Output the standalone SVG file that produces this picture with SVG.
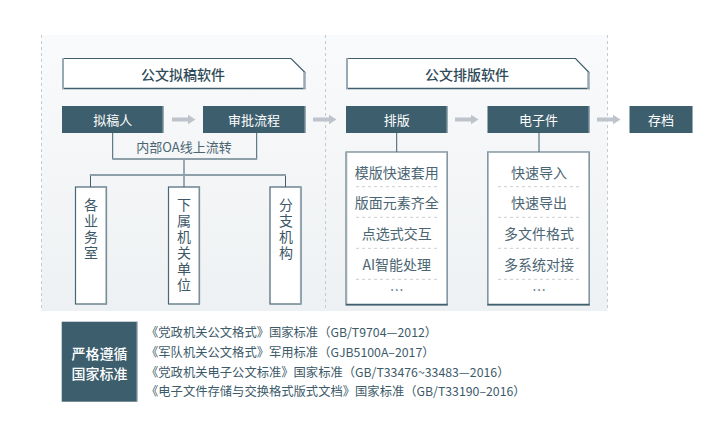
<svg xmlns="http://www.w3.org/2000/svg" width="727" height="431" viewBox="0 0 727 431">
<defs>
<linearGradient id="bg" x1="0" y1="0" x2="0" y2="1">
<stop offset="0" stop-color="#f9fafb"/>
<stop offset="1" stop-color="#eef1f3"/>
</linearGradient>
<path id="arr" d="M0,-2 H16 V-4.7 L23.5,0 L16,4.7 V2 H0 Z" fill="#bec4cb"/>
<style>
text{font-family:"Noto Sans CJK SC","Noto Sans",sans-serif;}
.dk{fill:#3d5e6d;}
.lt{stroke:#98a9b3;fill:none;}
.dl{stroke:#3f5f6e;fill:none;}
.wt{fill:#ffffff;font-size:13px;text-anchor:middle;dominant-baseline:central;}
.tt{fill:#2f4b59;font-size:14px;font-weight:500;text-anchor:middle;dominant-baseline:central;}
.li{fill:#4b6572;font-size:14px;text-anchor:middle;dominant-baseline:central;}
.vt{fill:#3e5868;font-size:14px;writing-mode:vertical-rl;letter-spacing:2px;}
.sep{stroke:#c9cfd4;stroke-dasharray:3 3;stroke-width:1;}
.vd{stroke:#c4cad0;stroke-dasharray:3 3;stroke-width:1;}
.st{fill:#3d5a69;font-size:12.3px;}
</style>
</defs>
<rect x="41.5" y="35" width="566" height="276" fill="url(#bg)"/>
<line class="vd" x1="41.5" y1="35" x2="41.5" y2="311"/>
<line class="vd" x1="325.5" y1="35" x2="325.5" y2="311"/>
<line class="vd" x1="607.5" y1="35" x2="607.5" y2="311"/>

<g id="title1">
<path d="M62,58 H291 L305.5,72.5 V89 H62 Z" fill="#fff"/>
<path class="dl" d="M62,58.5 H291 L305.5,73" stroke-width="1.2"/>
<line class="dl" x1="62" y1="88.5" x2="305.5" y2="88.5" stroke-width="1.5"/>
<line class="lt" x1="63" y1="58" x2="63" y2="89" stroke-width="2"/>
<line class="lt" x1="304.5" y1="72" x2="304.5" y2="89" stroke-width="2.5"/>
<text class="tt" x="183" y="74">公文拟稿软件</text>
</g>
<g id="title2">
<path d="M346,58 H575.5 L589.5,72.5 V89 H346 Z" fill="#fff"/>
<path class="dl" d="M346,58.5 H575.5 L589.5,73" stroke-width="1.2"/>
<line class="dl" x1="346" y1="88.5" x2="589.5" y2="88.5" stroke-width="1.5"/>
<line class="lt" x1="347" y1="58" x2="347" y2="89" stroke-width="2"/>
<line class="lt" x1="588.5" y1="72" x2="588.5" y2="89" stroke-width="2.5"/>
<text class="tt" x="467" y="74">公文排版软件</text>
</g>

<g id="nigaoren">
<rect class="dk" x="62" y="106" width="101.5" height="27"/>
<line class="lt" x1="163" y1="106" x2="163" y2="133" stroke-width="1"/>
<text class="wt" x="112.7" y="119.5">拟稿人</text>
</g>
<g id="shenpi">
<rect class="dk" x="203" y="106" width="102.5" height="27"/>
<line class="lt" x1="305" y1="106" x2="305" y2="133" stroke-width="1"/>
<text class="wt" x="254" y="119.5">审批流程</text>
</g>
<g id="paiban">
<rect class="dk" x="346" y="106" width="101.5" height="27"/>
<line class="lt" x1="447" y1="106" x2="447" y2="133" stroke-width="1"/>
<text class="wt" x="396.7" y="119.5">排版</text>
</g>
<g id="dianzijian">
<rect class="dk" x="487.5" y="106" width="102" height="27"/>
<line class="lt" x1="589" y1="106" x2="589" y2="133" stroke-width="1"/>
<text class="wt" x="538.5" y="119.5">电子件</text>
</g>
<g id="cundang">
<rect class="dk" x="629.5" y="106" width="63.5" height="27"/>
<line class="lt" x1="692.5" y1="106" x2="692.5" y2="133" stroke-width="1"/>
<text class="wt" x="661" y="119.5">存档</text>
</g>

<g id="connectors">
<use href="#arr" x="172" y="119.5"/>
<use href="#arr" x="313" y="119.5"/>
<use href="#arr" x="455" y="119.5"/>
<use href="#arr" x="597" y="119.5"/>
<line class="dl" x1="112.7" y1="133" x2="112.7" y2="159" stroke-width="1"/>
<line class="dl" x1="256.7" y1="133" x2="256.7" y2="159" stroke-width="1"/>
<line x1="112.2" y1="159" x2="257.2" y2="159" stroke="#8d9fa9" stroke-width="2"/>
<line class="dl" x1="184" y1="160" x2="184" y2="175" stroke-width="1"/>
<line x1="89.8" y1="175" x2="286" y2="175" stroke="#8d9fa9" stroke-width="2"/>
<line class="dl" x1="90.5" y1="176" x2="90.5" y2="187" stroke-width="1"/>
<line class="dl" x1="184" y1="176" x2="184" y2="187" stroke-width="1"/>
<line class="dl" x1="285.5" y1="176" x2="285.5" y2="187" stroke-width="1"/>
<line class="dl" x1="396.7" y1="133" x2="396.7" y2="152" stroke-width="1"/>
<line class="dl" x1="539" y1="133" x2="539" y2="152" stroke-width="1"/>
</g>
<text id="oa" x="184" y="146" fill="#4b6572" font-size="13" text-anchor="middle" dominant-baseline="central">内部OA线上流转</text>

<g id="gewushi">
<rect x="75.5" y="187" width="31" height="117" fill="#fff" stroke="#4a6676" stroke-width="1.2"/>
<line class="lt" x1="106" y1="187" x2="106" y2="304" stroke-width="1.2"/>
<text class="vt" x="91" y="198">各业务室</text>
</g>
<g id="xiashu">
<rect x="168.5" y="187" width="31" height="117" fill="#fff" stroke="#4a6676" stroke-width="1.2"/>
<line class="lt" x1="199" y1="187" x2="199" y2="304" stroke-width="1.2"/>
<text class="vt" x="184" y="198">下属机关单位</text>
</g>
<g id="fenzhi">
<rect x="270" y="187" width="31" height="117" fill="#fff" stroke="#4a6676" stroke-width="1.2"/>
<line class="lt" x1="300.5" y1="187" x2="300.5" y2="304" stroke-width="1.2"/>
<text class="vt" x="286" y="198">分支机构</text>
</g>

<g id="list1">
<rect x="346" y="152" width="101.5" height="153" fill="#fff" stroke="#4a6676" stroke-width="1"/>
<line class="lt" x1="346.5" y1="152" x2="346.5" y2="305" stroke-width="1.5"/>
<line class="lt" x1="447" y1="152" x2="447" y2="305" stroke-width="1.5"/>
<line class="dl" x1="346" y1="304.5" x2="447.5" y2="304.5" stroke-width="1.5"/>
<text class="li" x="396.7" y="171.7">模版快速套用</text>
<line class="sep" x1="356" y1="186.7" x2="438" y2="186.7"/>
<text class="li" x="396.7" y="202.3">版面元素齐全</text>
<line class="sep" x1="356" y1="217.3" x2="438" y2="217.3"/>
<text class="li" x="396.7" y="233.3">点选式交互</text>
<line class="sep" x1="356" y1="248.3" x2="438" y2="248.3"/>
<text class="li" x="396.7" y="264.3">AI智能处理</text>
<line class="sep" x1="356" y1="279.3" x2="438" y2="279.3"/>
<text class="li" x="396.7" y="289">…</text>
</g>
<g id="list2">
<rect x="487.5" y="152" width="102" height="153" fill="#fff" stroke="#4a6676" stroke-width="1"/>
<line class="lt" x1="488" y1="152" x2="488" y2="305" stroke-width="1.5"/>
<line class="lt" x1="589" y1="152" x2="589" y2="305" stroke-width="1.5"/>
<line class="dl" x1="487.5" y1="304.5" x2="589.5" y2="304.5" stroke-width="1.5"/>
<text class="li" x="539" y="171.7">快速导入</text>
<line class="sep" x1="498" y1="186.7" x2="580" y2="186.7"/>
<text class="li" x="539" y="202.3">快速导出</text>
<line class="sep" x1="498" y1="217.3" x2="580" y2="217.3"/>
<text class="li" x="539" y="233.3">多文件格式</text>
<line class="sep" x1="498" y1="248.3" x2="580" y2="248.3"/>
<text class="li" x="539" y="264.3">多系统对接</text>
<line class="sep" x1="498" y1="279.3" x2="580" y2="279.3"/>
<text class="li" x="539" y="289">…</text>
</g>

<g id="standards">
<rect class="dk" x="61.7" y="321.7" width="75.6" height="80"/>
<line class="lt" x1="137" y1="321.7" x2="137" y2="401.7" stroke-width="1"/>
<text class="wt" x="99.5" y="352.7" font-weight="500" style="font-size:14px">严格遵循</text>
<text class="wt" x="99.5" y="372.7" font-weight="500" style="font-size:14px">国家标准</text>
</g>
<g id="standard-list">
<text class="st" x="146" y="337">《党政机关公文格式》国家标准（GB/T9704—2012）</text>
<text class="st" x="146" y="357">《军队机关公文格式》军用标准（GJB5100A–2017）</text>
<text class="st" x="146" y="377">《党政机关电子公文标准》国家标准（GB/T33476~33483—2016）</text>
<text class="st" x="146" y="396">《电子文件存储与交换格式版式文档》国家标准（GB/T33190–2016）</text>
</g>
</svg>
